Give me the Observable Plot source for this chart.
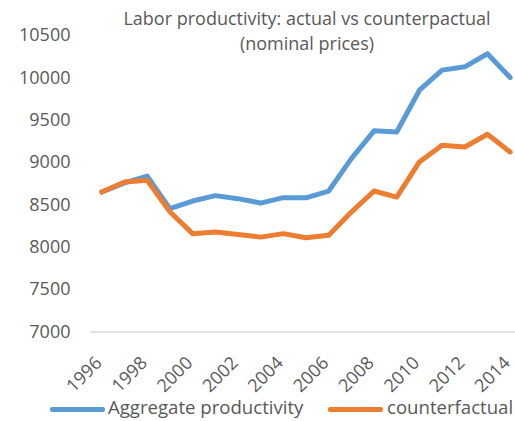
<!DOCTYPE html>
<html><head><meta charset="utf-8">
<script src="https://cdn.jsdelivr.net/npm/d3@7"></script>
<script src="https://cdn.jsdelivr.net/npm/@observablehq/plot@0.6"></script>
<style>
body{margin:0;background:#fff;font-family:"Open Sans",sans-serif;}
#wrap{position:relative;width:515px;height:421px;overflow:hidden;background:#fff}
#title{position:absolute;left:107px;top:6px;width:400px;text-align:center;font-size:18px;line-height:25px;color:#595959}
.sw{position:absolute;height:5px;border-radius:2px}
.lt{position:absolute;font-size:18.6px;line-height:20px;color:#595959;white-space:nowrap}
</style></head>
<body>
<div id="wrap">
<div id="chart"></div>
<div id="title">Labor productivity: actual vs counterpactual<br>(nominal prices)</div>
<div class="sw" style="left:50px;top:407px;width:55px;background:#5B9BD5"></div>
<div class="lt" style="left:108px;top:397px">Aggregate productivity</div>
<div class="sw" style="left:328px;top:407px;width:55px;background:#ED7D31"></div>
<div class="lt" style="left:387px;top:397px">counterfactual</div>
</div>
<script>
const years = [1996,1997,1998,1999,2000,2001,2002,2003,2004,2005,2006,2007,2008,2009,2010,2011,2012,2013,2014];
const aggregate = [8652,8760,8840,8456,8546,8610,8574,8522,8586,8584,8664,9047,9375,9361,9854,10091,10130,10285,10005];
const counterfactual = [8652,8770,8790,8420,8161,8180,8152,8120,8161,8113,8141,8416,8664,8593,9007,9204,9184,9334,9125];
const yTicks = [7000,7500,8000,8500,9000,9500,10000,10500];
const xTicks = [1996,1998,2000,2002,2004,2006,2008,2010,2012,2014];
const seriesNames = ["Aggregate productivity","counterfactual"];
const colors = ["#5B9BD5","#ED7D31"];

const rows = [];
years.forEach((yr,i)=>{
  rows.push({year:yr,value:aggregate[i],series:seriesNames[0]});
  rows.push({year:yr,value:counterfactual[i],series:seriesNames[1]});
});

const chart = Plot.plot({
  width:515, height:421,
  marginLeft:90, marginRight:0, marginTop:35, marginBottom:89.5,
  x:{domain:[1995.5,2014.5], range:[90,521]},
  y:{domain:[7000,10500]},
  color:{domain:seriesNames, range:colors},
  style:{fontFamily:"Open Sans", fontSize:"18px", color:"#595959", background:"white", overflow:"visible"},
  marks:[
    Plot.ruleY([7000],{stroke:"#d9d9d9",strokeWidth:1.5}),
    Plot.axisY({ticks:yTicks, tickSize:0, tickPadding:20, label:null, tickFormat:d=>String(d)}),
    Plot.axisX({ticks:xTicks, tickSize:0, tickPadding:28, dx:-3, tickRotate:-45, label:null, tickFormat:d=>String(d)}),
    Plot.line(rows.filter(d=>d.series===seriesNames[0]),{x:"year",y:"value",stroke:"series",strokeWidth:5,strokeLinejoin:"round",strokeLinecap:"round"}),
    Plot.line(rows.filter(d=>d.series===seriesNames[1]),{x:"year",y:"value",stroke:"series",strokeWidth:5,strokeLinejoin:"round",strokeLinecap:"round"})
  ]
});
document.getElementById("chart").appendChild(chart);
</script>
</body></html>
